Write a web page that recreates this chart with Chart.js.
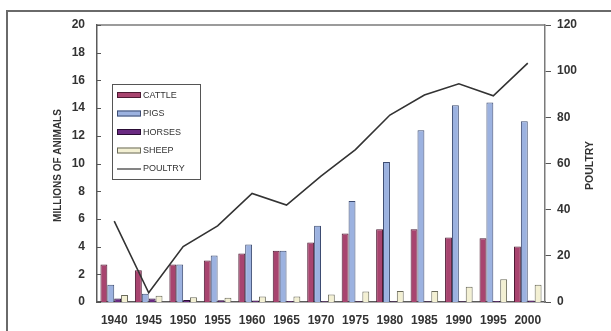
<!DOCTYPE html>
<html>
<head>
<meta charset="utf-8">
<script src="https://cdn.jsdelivr.net/npm/chart.js@4/dist/chart.umd.min.js"></script>
<style>
  html, body { margin: 0; padding: 0; background: #ffffff; overflow: hidden; }
  canvas { display: block; }
</style>
</head>
<body>
<canvas id="c" width="611" height="331"></canvas>
<script>
// ---- Data ----
const years   = ['1940','1945','1950','1955','1960','1965','1970','1975','1980','1985','1990','1995','2000'];
const cattle  = [2.7, 2.3, 2.7, 3.0, 3.5, 3.7, 4.3, 4.95, 5.25, 5.25, 4.65, 4.6, 4.0];
const pigs    = [1.25, 0.6, 2.7, 3.35, 4.15, 3.7, 5.5, 7.3, 10.1, 12.4, 14.2, 14.4, 13.05];
const horses  = [0.25, 0.25, 0.15, 0.12, 0.1, 0.08, 0.06, 0.05, 0.05, 0.05, 0.05, 0.07, 0.1];
const sheep   = [0.5, 0.45, 0.35, 0.3, 0.4, 0.4, 0.55, 0.75, 0.8, 0.8, 1.1, 1.65, 1.25];
const poultry = [35, 4, 24, 33, 47, 42, 54.5, 66, 81, 89.7, 94.5, 89.3, 103.5];
const seriesNames = ['CATTLE', 'PIGS', 'HORSES', 'SHEEP', 'POULTRY'];
const leftTitle  = 'MILLIONS OF ANIMALS';
const rightTitle = 'POULTRY';
const leftTicks  = { min: 0, max: 20, step: 2 };
const rightTicks = { min: 0, max: 120, step: 20 };

const FONT = '"Liberation Sans", Arial, sans-serif';
const TXT = '#333333';

// Outer frame + plot-area frame
const framePlugin = {
  id: 'frames',
  beforeDraw(chart) {
    const ctx = chart.ctx;
    ctx.save();
    ctx.fillStyle = '#ffffff';
    ctx.fillRect(0, 0, chart.width, chart.height);
    ctx.strokeStyle = '#6a6a6a';
    ctx.lineWidth = 2;
    ctx.beginPath();
    ctx.moveTo(7, chart.height);
    ctx.lineTo(7, 11);
    ctx.lineTo(chart.width, 11);
    ctx.stroke();
    ctx.restore();
  },
  afterDatasetsDraw(chart) {
    const ctx = chart.ctx;
    const a = chart.chartArea;
    ctx.save();
    ctx.strokeStyle = '#7a7a7a';
    ctx.lineWidth = 1.5;
    ctx.beginPath();
    ctx.moveTo(a.left, a.top);
    ctx.lineTo(a.right, a.top);
    ctx.stroke();
    // inward ticks on left axis
    const y = chart.scales.y;
    ctx.strokeStyle = '#555555';
    ctx.lineWidth = 1;
    y.ticks.forEach(t => {
      const py = Math.round(y.getPixelForValue(t.value)) + 0.5;
      ctx.beginPath();
      ctx.moveTo(a.left, py);
      ctx.lineTo(a.left + 4, py);
      ctx.stroke();
    });
    // axis titles (both read bottom-to-top)
    ctx.fillStyle = TXT;
    ctx.textAlign = 'center';
    ctx.textBaseline = 'middle';
    const cy = (a.top + a.bottom) / 2 + 2;
    ctx.font = 'bold 10px ' + FONT;
    ctx.translate(58, cy);
    ctx.rotate(-Math.PI / 2);
    ctx.fillText(leftTitle, 0, 0);
    ctx.rotate(Math.PI / 2);
    ctx.translate(-58, -cy);
    ctx.font = 'bold 10.5px ' + FONT;
    ctx.translate(590, cy);
    ctx.rotate(-Math.PI / 2);
    ctx.fillText(rightTitle, 0, 0);
    ctx.restore();
  }
};

// Legend inside plot
const legendPlugin = {
  id: 'boxLegend',
  afterDraw(chart) {
    const ctx = chart.ctx;
    const bx = 112, by = 84, bw = 88, bh = 95;
    ctx.save();
    ctx.fillStyle = '#ffffff';
    ctx.fillRect(bx, by, bw, bh);
    ctx.strokeStyle = '#555555';
    ctx.lineWidth = 1;
    ctx.strokeRect(bx + 0.5, by + 0.5, bw, bh);
    const ys = [95, 113.5, 132, 150.5, 168.5];
    chart.data.datasets.forEach((ds, i) => {
      const yy = ys[i];
      if (ds.type === 'line') {
        ctx.strokeStyle = ds.borderColor;
        ctx.lineWidth = 1.2;
        ctx.beginPath();
        ctx.moveTo(117, yy + 0.5);
        ctx.lineTo(141, yy + 0.5);
        ctx.stroke();
      } else {
        ctx.fillStyle = ds.backgroundColor;
        ctx.fillRect(117, yy - 3, 24, 6);
        ctx.strokeStyle = ds.borderColor;
        ctx.strokeRect(117.5, yy - 2.5, 23, 5);
      }
      ctx.fillStyle = TXT;
      ctx.font = '9px ' + FONT;
      ctx.textAlign = 'left';
      ctx.textBaseline = 'middle';
      ctx.fillText(ds.label, 143, yy + 0.5);
    });
    ctx.restore();
  }
};

const barDs = (label, data, bg, bd) => ({
  type: 'bar', label, data, yAxisID: 'y',
  backgroundColor: bg, borderColor: bd, borderWidth: 1,
  categoryPercentage: 0.8, barPercentage: 1.0, order: 2
});

new Chart(document.getElementById('c'), {
  data: {
    labels: years,
    datasets: [
      barDs(seriesNames[0], cattle, '#a8446f', '#4d1a33'),
      barDs(seriesNames[1], pigs, '#9cb2e0', '#3d4c72'),
      barDs(seriesNames[2], horses, '#6a2a82', '#2a0d35'),
      barDs(seriesNames[3], sheep, '#f3f0d3', '#6a6a5a'),
      {
        type: 'line', label: seriesNames[4], data: poultry, yAxisID: 'y2',
        borderColor: '#333333', borderWidth: 1.6, pointRadius: 0, tension: 0,
        fill: false, order: 1
      }
    ]
  },
  options: {
    responsive: false,
    animation: false,
    devicePixelRatio: 1,
    layout: { padding: { top: 25, left: 0, right: 0, bottom: 0 } },
    plugins: { legend: { display: false }, tooltip: { enabled: false } },
    scales: {
      x: {
        grid: { display: false, drawTicks: false },
        border: { display: true, color: '#5a5a5a', width: 1.5 },
        ticks: { color: TXT, font: { family: FONT, size: 12, weight: 'bold' }, padding: 11, maxRotation: 0, autoSkip: false },
        afterFit(s) { s.height = 29; }
      },
      y: {
        position: 'left',
        min: leftTicks.min, max: leftTicks.max,
        grid: { display: false, drawTicks: false },
        border: { display: true, color: '#5a5a5a', width: 1.5 },
        ticks: { stepSize: leftTicks.step, color: TXT, font: { family: FONT, size: 12, weight: 'bold' }, padding: 12 },
        afterFit(s) { s.width = 97; }
      },
      y2: {
        position: 'right',
        min: rightTicks.min, max: rightTicks.max,
        grid: { display: true, drawOnChartArea: false, drawTicks: true, tickLength: 6, color: '#555555' },
        border: { display: true, color: '#7a7a7a', width: 1.5 },
        ticks: { stepSize: rightTicks.step, color: TXT, font: { family: FONT, size: 12, weight: 'bold' }, padding: 6 },
        afterFit(s) { s.width = 66; }
      }
    }
  },
  plugins: [framePlugin, legendPlugin]
});
</script>
</body>
</html>
